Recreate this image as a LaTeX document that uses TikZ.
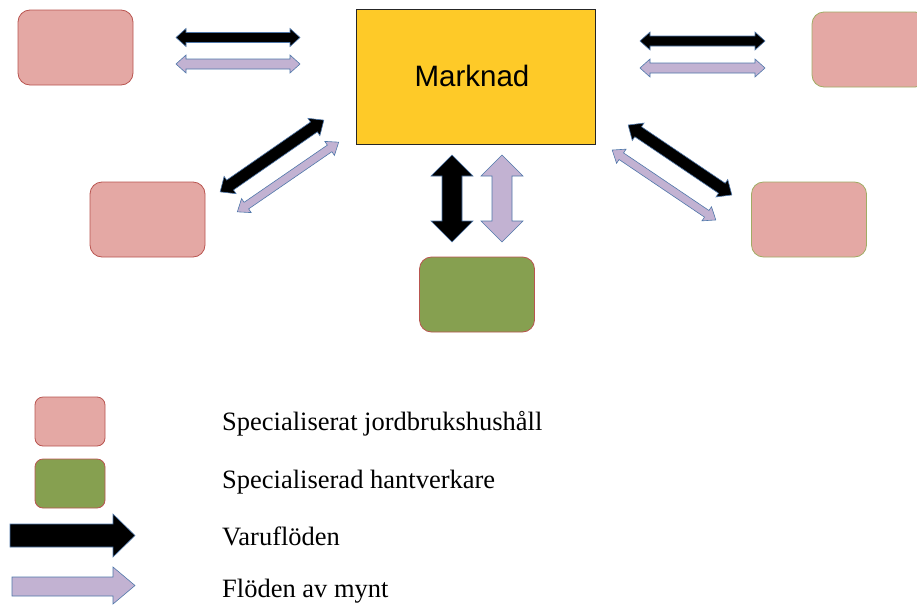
\documentclass[tikz,border=0pt]{standalone}
\usepackage{fontspec}
\setmainfont{Liberation Serif}
\newfontfamily\arialfont{Liberation Sans}
\definecolor{pinkfill}{RGB}{228,168,164}
\definecolor{redline}{RGB}{185,85,80}
\definecolor{oliveline}{RGB}{160,172,100}
\definecolor{greenfill}{RGB}{134,160,80}
\definecolor{goldfill}{RGB}{254,202,40}
\definecolor{purplefill}{RGB}{194,178,210}
\definecolor{blueline}{RGB}{80,120,170}
\newcommand\DblArr[7]{%
\begin{scope}[shift={(#1)},rotate=#2]
\draw[#7] (-#3/2,0) -- (-#3/2+#6,#4/2) -- (-#3/2+#6,#5/2) -- (#3/2-#6,#5/2) -- (#3/2-#6,#4/2) -- (#3/2,0) -- (#3/2-#6,-#4/2) -- (#3/2-#6,-#5/2) -- (-#3/2+#6,-#5/2) -- (-#3/2+#6,-#4/2) -- cycle;
\end{scope}}
\begin{document}
\begin{tikzpicture}[x=1pt,y=-1pt,
  farmbox/.style={draw=redline,fill=pinkfill,line width=0.8pt,rounded corners=12pt,minimum width=115pt,minimum height=75pt,inner sep=0pt,outer sep=0pt},
  farmboxo/.style={farmbox,draw=oliveline},
  craftbox/.style={farmbox,fill=greenfill},
  legbox/.style={line width=0.8pt,rounded corners=8pt,minimum width=70pt,minimum height=49pt,inner sep=0pt,outer sep=0pt},
  goodsarr/.style={fill=black,draw=blueline,line width=0.6pt,line join=miter},
  coinarr/.style={fill=purplefill,draw=blueline,line width=0.6pt,line join=miter},
  legtext/.style={anchor=base west,inner sep=0pt,font=\fontsize{26.5}{30}\selectfont}]
\clip (0,0) rectangle (917,605);
\fill[white] (0,0) rectangle (917,605);
% market
\node[draw=black!85,fill=goldfill,line width=1pt,minimum width=239pt,minimum height=135pt,inner sep=0pt,outer sep=0pt] (market) at (475.5,76.5) {};
\node[inner sep=0pt,font=\arialfont\fontsize{29.5}{34}\selectfont] (mlabel) at (472,76) {Marknad};
% households
\node[farmbox] (tl) at (75.5,47.5) {};
\node[farmboxo] (tr) at (869.5,49.5) {};
\node[farmbox] (ml) at (147.5,219.5) {};
\node[farmboxo] (mr) at (809,219.5) {};
\node[craftbox] (cr) at (477,294.5) {};
% arrows
\DblArr{238,37.5}{0}{124}{18}{10}{10}{goodsarr}
\DblArr{238,64}{0}{124}{18}{10}{10}{coinarr}
\DblArr{702.5,41}{0}{125}{18}{10}{10}{goodsarr}
\DblArr{702.5,68}{0}{125}{18}{10}{10}{coinarr}
\DblArr{272,156}{34.7}{126}{21}{12}{12}{goodsarr}
\DblArr{288,177}{34.5}{123}{17}{8}{11}{coinarr}
\DblArr{680,160}{-34}{125}{21}{12}{12}{goodsarr}
\DblArr{664,185}{-34}{125}{17}{8}{11}{coinarr}
\DblArr{452,198.5}{90}{87}{42}{20}{21}{goodsarr}
\DblArr{502,198.5}{90}{87}{42}{20}{21}{coinarr}
% legend
\node[legbox,draw=redline,fill=pinkfill] (lp) at (70,421.5) {};
\node[legbox,draw=redline,fill=greenfill] (lg) at (70,483.5) {};
\draw[goodsarr] (10,524) -- (113,524) -- (113,514) -- (135,535.5) -- (113,557) -- (113,547) -- (10,547) -- cycle;
\draw[coinarr] (12,577) -- (113,577) -- (113,567) -- (135,585.5) -- (113,604) -- (113,596) -- (12,596) -- cycle;
\node[legtext] (t1) at (222,430) {Specialiserat jordbrukshushåll};
\node[legtext] (t2) at (222,488) {Specialiserad hantverkare};
\node[legtext] (t3) at (222,545) {Varuflöden};
\node[legtext] (t4) at (222,597) {Flöden av mynt};
\end{tikzpicture}
\end{document}
